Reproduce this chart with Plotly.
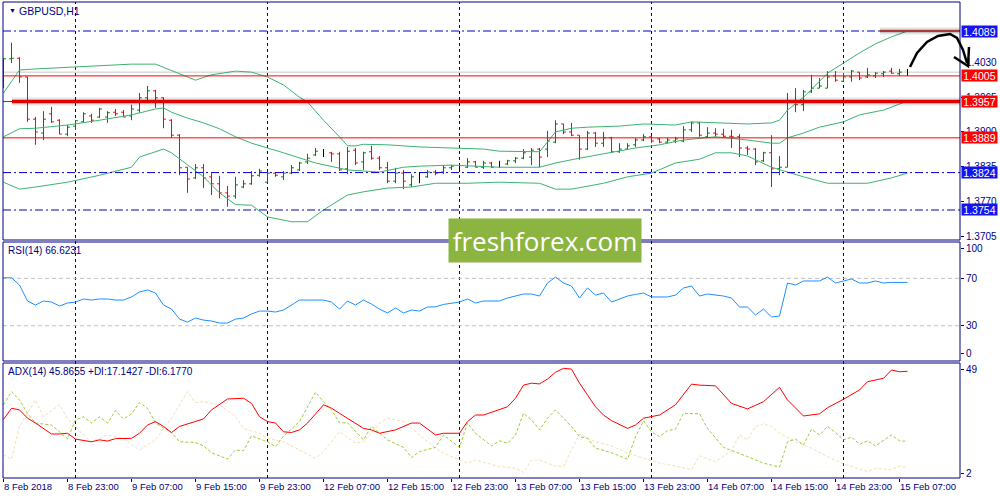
import plotly.graph_objects as go

# ---------------- DATA ----------------
X_LABELS = ["8 Feb 2018", "8 Feb 23:00", "9 Feb 07:00", "9 Feb 15:00", "9 Feb 23:00",
            "12 Feb 07:00", "12 Feb 15:00", "12 Feb 23:00", "13 Feb 07:00", "13 Feb 15:00",
            "13 Feb 23:00", "14 Feb 07:00", "14 Feb 15:00", "14 Feb 23:00", "15 Feb 07:00"]
X_LABEL_POS = [0, 8, 16, 24, 32, 40, 48, 56, 64, 72, 80, 88, 96, 104, 112]
DAY_STARTS = [9, 33, 57, 81, 105]

OPEN = [1.3997, 1.4037, 1.4038, 1.4003, 1.3924, 1.3898, 1.3934, 1.3922, 1.3896, 1.3911,
        1.3919, 1.3930, 1.3928, 1.3928, 1.3937, 1.3937, 1.3930, 1.3941, 1.3964, 1.3977,
        1.3964, 1.3922, 1.3894, 1.3834, 1.3814, 1.3833, 1.3816, 1.3803, 1.3786, 1.3780,
        1.3797, 1.3803, 1.3819, 1.3806, 1.3823, 1.3816, 1.3823, 1.3829, 1.3844, 1.3857,
        1.3861, 1.3861, 1.3859, 1.3831, 1.3866, 1.3844, 1.3863, 1.3851, 1.3833, 1.3808,
        1.3823, 1.3801, 1.3814, 1.3816, 1.3825, 1.3825, 1.3833, 1.3834, 1.3834, 1.3844,
        1.3834, 1.3842, 1.3838, 1.3840, 1.3846, 1.3851, 1.3853, 1.3868, 1.3868, 1.3881,
        1.3915, 1.3900, 1.3894, 1.3868, 1.3898, 1.3879, 1.3889, 1.3863, 1.3868, 1.3876,
        1.3885, 1.3891, 1.3887, 1.3881, 1.3883, 1.3883, 1.3904, 1.3917, 1.3891, 1.3898,
        1.3896, 1.3892, 1.3891, 1.3870, 1.3868, 1.3846, 1.3861, 1.3831, 1.3834, 1.3956,
        1.3951, 1.3975, 1.3982, 1.3982, 1.4005, 1.3995, 1.4003, 1.4012, 1.4003, 1.4005,
        1.4009, 1.4014, 1.4009, 1.4012]
HIGH = [1.4038, 1.4067, 1.4040, 1.4003, 1.3928, 1.3939, 1.3947, 1.3924, 1.3913, 1.3922,
        1.3937, 1.3934, 1.3945, 1.3939, 1.3943, 1.3941, 1.3951, 1.3973, 1.3986, 1.3979,
        1.3965, 1.3924, 1.3896, 1.3834, 1.3840, 1.3840, 1.3823, 1.3818, 1.3799, 1.3816,
        1.3810, 1.3827, 1.3831, 1.3825, 1.3825, 1.3827, 1.3838, 1.3844, 1.3859, 1.3870,
        1.3868, 1.3863, 1.3863, 1.3872, 1.3870, 1.3863, 1.3874, 1.3855, 1.3844, 1.3833,
        1.3829, 1.3821, 1.3825, 1.3829, 1.3829, 1.3838, 1.3838, 1.3838, 1.3851, 1.3846,
        1.3846, 1.3844, 1.3846, 1.3848, 1.3853, 1.3868, 1.3870, 1.3870, 1.3902, 1.3922,
        1.3915, 1.3917, 1.3894, 1.3902, 1.3900, 1.3900, 1.3891, 1.3879, 1.3879, 1.3889,
        1.3896, 1.3892, 1.3889, 1.3889, 1.3891, 1.3911, 1.3919, 1.3919, 1.3909, 1.3907,
        1.3906, 1.3904, 1.3896, 1.3874, 1.3870, 1.3863, 1.3894, 1.3855, 1.3973, 1.3982,
        1.3979, 1.4007, 1.4001, 1.4014, 1.4014, 1.4010, 1.4016, 1.4012, 1.4020, 1.4012,
        1.4014, 1.4020, 1.4018, 1.4018]
LOW = [1.3982, 1.4029, 1.3992, 1.3919, 1.3876, 1.3885, 1.3917, 1.3896, 1.3892, 1.3904,
       1.3917, 1.3917, 1.3926, 1.3917, 1.3930, 1.3928, 1.3922, 1.3936, 1.3954, 1.3945,
       1.3907, 1.3889, 1.3819, 1.3786, 1.3812, 1.3795, 1.3782, 1.3776, 1.3760, 1.3775,
       1.3795, 1.3801, 1.3816, 1.3804, 1.3816, 1.3810, 1.3821, 1.3827, 1.3840, 1.3855,
       1.3853, 1.3844, 1.3827, 1.3821, 1.3838, 1.3829, 1.3848, 1.3829, 1.3804, 1.3804,
       1.3793, 1.3797, 1.3804, 1.3814, 1.3819, 1.3821, 1.3829, 1.3827, 1.3833, 1.3834,
       1.3831, 1.3833, 1.3833, 1.3838, 1.3842, 1.3849, 1.3838, 1.3834, 1.3853, 1.3879,
       1.3896, 1.3892, 1.3848, 1.3866, 1.3872, 1.3872, 1.3861, 1.3861, 1.3868, 1.3872,
       1.3883, 1.3879, 1.3879, 1.3879, 1.3879, 1.3881, 1.3900, 1.3891, 1.3889, 1.3891,
       1.3889, 1.3870, 1.3853, 1.3857, 1.3838, 1.3844, 1.3797, 1.3819, 1.3834, 1.3937,
       1.3939, 1.3973, 1.3982, 1.3982, 1.3994, 1.3994, 1.3994, 1.3997, 1.4001, 1.4001,
       1.4003, 1.4009, 1.4005, 1.4005]
CLOSE = [1.4037, 1.4038, 1.4003, 1.3924, 1.3900, 1.3924, 1.3919, 1.3896, 1.3909, 1.3921,
         1.3934, 1.3922, 1.3943, 1.3936, 1.3934, 1.3928, 1.3943, 1.3964, 1.3977, 1.3964,
         1.3924, 1.3894, 1.3833, 1.3812, 1.3833, 1.3814, 1.3803, 1.3786, 1.3780, 1.3801,
         1.3803, 1.3818, 1.3827, 1.3823, 1.3819, 1.3823, 1.3833, 1.3842, 1.3851, 1.3864,
         1.3861, 1.3859, 1.3829, 1.3864, 1.3842, 1.3861, 1.3851, 1.3833, 1.3808, 1.3823,
         1.3808, 1.3816, 1.3814, 1.3825, 1.3823, 1.3833, 1.3836, 1.3834, 1.3844, 1.3834,
         1.3842, 1.3834, 1.3838, 1.3846, 1.3851, 1.3861, 1.3866, 1.3853, 1.3883, 1.3915,
         1.3900, 1.3894, 1.3868, 1.3898, 1.3879, 1.3889, 1.3863, 1.3868, 1.3874, 1.3885,
         1.3891, 1.3883, 1.3881, 1.3885, 1.3887, 1.3904, 1.3917, 1.3894, 1.3898, 1.3896,
         1.3892, 1.3891, 1.3870, 1.3868, 1.3844, 1.3861, 1.3831, 1.3834, 1.3956, 1.3951,
         1.3975, 1.3982, 1.3986, 1.4003, 1.3997, 1.4003, 1.4014, 1.4001, 1.4007, 1.4010,
         1.4012, 1.4010, 1.4012, 1.4012]

BB_UP_IDX = [0, 2, 4, 8, 12, 16, 19, 20, 22, 24, 26, 29, 31, 33, 35, 37, 38, 40, 42, 43,
             44, 45, 48, 52, 56, 60, 62, 67, 69, 71, 73, 77, 80, 84, 86, 89, 93, 96, 97, 98,
             100, 103, 105, 107, 109, 111, 113]
BB_UP = [1.3973, 1.4016, 1.4018, 1.4021, 1.4025, 1.4027, 1.4027, 1.4021, 1.4010, 1.3997,
         1.4007, 1.4014, 1.4012, 1.4003, 1.3988, 1.3965, 1.3956, 1.3922, 1.3891, 1.3874,
         1.3874, 1.3877, 1.3876, 1.3872, 1.3870, 1.3868, 1.3864, 1.3863, 1.3900, 1.3907,
         1.3909, 1.3911, 1.3915, 1.3913, 1.3919, 1.3917, 1.3915, 1.3917, 1.3922, 1.3941,
         1.3965, 1.4010, 1.4029, 1.4048, 1.4065, 1.4078, 1.4089]
BB_MID_IDX = [0, 2, 4, 8, 12, 16, 19, 20, 21, 23, 25, 27, 29, 31, 35, 39, 43, 47, 50, 52,
              56, 62, 67, 69, 72, 75, 79, 82, 85, 89, 93, 96, 97, 98, 100, 102, 105, 107, 110, 113]
BB_MID = [1.3891, 1.3906, 1.3907, 1.3913, 1.3922, 1.3932, 1.3943, 1.3945, 1.3937, 1.3926,
          1.3917, 1.3906, 1.3891, 1.3879, 1.3861, 1.3842, 1.3829, 1.3825, 1.3834, 1.3836,
          1.3838, 1.3834, 1.3834, 1.3842, 1.3851, 1.3859, 1.3870, 1.3876, 1.3885, 1.3891,
          1.3885, 1.3879, 1.3879, 1.3889, 1.3898, 1.3909, 1.3919, 1.3932, 1.3941, 1.3958]
BB_LOW_IDX = [0, 2, 4, 8, 12, 16, 17, 19, 20, 21, 23, 25, 27, 29, 31, 33, 36, 38, 40, 42,
              43, 45, 48, 51, 54, 58, 62, 67, 69, 71, 75, 78, 81, 84, 87, 89, 91, 93, 96, 98,
              100, 103, 108, 111, 113]
BB_LOW = [1.3806, 1.3793, 1.3797, 1.3806, 1.3819, 1.3834, 1.3853, 1.3863, 1.3868, 1.3861,
          1.3838, 1.3816, 1.3786, 1.3764, 1.3763, 1.3741, 1.3732, 1.3732, 1.3754, 1.3773,
          1.3782, 1.3788, 1.3795, 1.3797, 1.3804, 1.3804, 1.3806, 1.3804, 1.3793, 1.3793,
          1.3804, 1.3816, 1.3823, 1.3842, 1.3849, 1.3861, 1.3861, 1.3855, 1.3834, 1.3825,
          1.3816, 1.3804, 1.3804, 1.3814, 1.3823]

RSI = [70.5, 70.5, 64.4, 50.9, 47.5, 50.9, 50.0, 46.7, 49.2, 50.0,
       52.6, 51.7, 52.6, 52.6, 51.7, 51.7, 54.3, 58.5, 60.2, 57.6,
       47.5, 44.1, 35.6, 33.1, 36.5, 34.8, 34.0, 32.3, 32.3, 35.6,
       36.5, 40.0, 42.4, 42.4, 41.6, 43.3, 47.5, 51.7, 51.7, 51.7,
       51.7, 50.0, 44.1, 50.9, 47.5, 51.7, 48.3, 44.0, 40.8, 45.0,
       40.8, 43.3, 42.4, 45.8, 46.0, 48.0, 49.2, 50.0, 52.6, 49.2,
       50.9, 50.9, 50.9, 53.4, 55.1, 56.8, 56.8, 55.1, 66.1, 71.1,
       66.1, 63.5, 53.4, 61.9, 55.9, 57.6, 50.0, 52.6, 55.1, 56.5,
       57.6, 54.3, 54.3, 54.3, 55.9, 61.9, 63.5, 55.1, 56.8, 55.9,
       55.1, 53.4, 45.8, 45.8, 39.1, 44.1, 37.4, 38.2, 66.1, 64.4,
       67.8, 67.8, 67.8, 71.1, 66.1, 67.8, 69.5, 66.1, 66.1, 67.8,
       66.1, 66.6, 66.6, 66.6]
RSI_LEVELS = [70, 30]

ADX_IDX = [0, 1, 2, 3, 4, 5, 6, 7, 8, 9, 10, 11, 12, 13, 14, 16, 17, 18, 19, 20, 21, 22,
           25, 26, 28, 30, 31, 32, 33, 34, 35, 36, 37, 38, 40, 41, 42, 43, 45, 46, 47, 49,
           51, 52, 54, 55, 57, 58, 59, 60, 62, 63, 64, 65, 66, 67, 68, 69, 70, 71, 72, 73,
           74, 75, 76, 78, 79, 80, 82, 84, 86, 87, 89, 91, 93, 95, 97, 98, 100, 102, 103, 105,
           107, 108, 110, 111, 112, 113]
ADX = [26.1, 30.7, 30.0, 26.6, 24.6, 22.4, 20.1, 20.1, 20.4, 18.0, 17.3, 16.9, 17.7, 17.2, 18.2,
       18.3, 20.4, 23.8, 25.2, 23.2, 20.7, 23.2,
       26.3, 30.0, 34.5, 34.8, 32.7, 27.2, 25.2, 24.6, 21.0, 20.7,
       21.8, 24.6, 32.1, 30.7, 28.6, 26.6, 22.4, 21.8, 20.4, 21.8,
       24.6, 24.6, 19.7, 20.4, 20.4, 25.2, 27.9, 27.9, 30.0, 31.3,
       34.8, 40.2, 41.0, 40.7, 42.7, 45.5, 47.1, 46.8, 41.0, 36.1,
       31.3, 27.9, 25.6, 22.4, 23.8, 26.6, 27.9, 32.1, 40.6, 40.2,
       39.9, 32.7, 30.4, 33.4, 39.3, 34.1, 27.5, 28.4, 30.9, 34.4,
       38.2, 41.6, 43.0, 46.4, 45.7, 45.9]
PDI_IDX = [0, 1, 2, 3, 4, 6, 7, 8, 9, 10, 11, 12, 13, 14, 15, 16, 17, 18, 19, 21,
           22, 24, 25, 26, 28, 29, 30, 31, 33, 34, 35, 37, 39, 40, 41, 42, 43, 45, 46, 48,
           50, 51, 52, 54, 55, 57, 58, 59, 61, 62, 63, 64, 65, 66, 67, 68, 69, 71, 72, 73,
           74, 76, 77, 78, 79, 80, 81, 82, 83, 84, 85, 87, 88, 90, 93, 95, 97, 98, 99, 100,
           101, 102, 103, 104, 105, 106, 107, 108, 109, 111, 112, 113]
PDI = [32.1, 37.5, 34.1, 28.6, 24.6, 23.8, 21.0, 18.1, 25.9, 27.2,
       24.6, 27.2, 24.6, 29.7, 26.3, 28.4, 33.0, 30.7, 24.6, 20.7,
       16.9, 16.6, 15.2, 12.4, 9.8, 13.5, 13.2, 19.3, 16.9, 14.9,
       19.3, 25.2, 37.3, 33.4, 30.0, 24.7, 24.7, 17.7, 23.2, 17.7,
       14.6, 10.4, 12.9, 14.6, 19.7, 14.6, 24.6, 20.4, 15.2, 17.3,
       16.3, 19.7, 28.6, 25.9, 21.8, 26.6, 30.0, 23.2, 19.0, 18.3,
       14.3, 12.4, 11.1, 9.7, 19.0, 25.5, 21.0, 19.0, 21.5, 22.1,
       28.6, 28.4, 22.4, 14.6, 10.8, 8.1, 6.5, 16.9, 18.0, 15.6,
       22.1, 19.7, 23.2, 20.7, 17.7, 18.8, 15.9, 17.3, 15.2, 19.7,
       17.3, 17.1]
MDI_IDX = [0, 1, 2, 4, 5, 7, 8, 10, 11, 13, 15, 17, 19, 21, 23, 24, 25, 27, 29, 30,
           32, 33, 35, 37, 39, 40, 42, 44, 45, 47, 48, 50, 52, 54, 55, 57, 58, 59, 61, 62,
           64, 65, 66, 67, 69, 70, 71, 72, 74, 76, 78, 80, 82, 84, 86, 87, 89, 91, 92, 93,
           94, 95, 96, 97, 99, 101, 103, 105, 107, 108, 109, 111, 112, 113]
MDI = [11.5, 9.7, 23.2, 34.1, 27.2, 32.1, 26.6, 19.7, 16.9, 19.7,
       18.3, 13.5, 17.7, 26.6, 37.5, 33.0, 33.4, 32.1, 27.2, 22.4,
       20.4, 18.3, 16.9, 13.5, 10.1, 12.9, 21.0, 16.3, 16.9, 24.6,
       26.6, 25.2, 19.7, 14.3, 12.2, 9.4, 8.1, 9.4, 7.4, 6.7,
       6.0, 4.3, 9.4, 9.4, 6.9, 6.7, 13.5, 20.1, 16.9, 15.2,
       12.2, 10.1, 8.1, 6.9, 5.4, 11.1, 8.7, 13.2, 19.7, 17.7,
       23.2, 24.3, 23.2, 20.4, 16.9, 14.3, 10.8, 7.8, 5.6, 4.6,
       6.0, 5.4, 6.9, 6.2]

PRICE_TICKS = [1.4030, 1.3965, 1.3900, 1.3835, 1.3770, 1.3705]
BLUE_LEVELS = [1.4089, 1.3824, 1.3754]
RED_LEVELS = [1.4005, 1.3889]
THICK_RED_LEVEL = 1.3957
BID = 1.4012

# ---------------- STYLE / LAYOUT HELPERS ----------------
NAVY = "#000080"
FONT = "Liberation Sans, Arial, sans-serif"
L, R, T, B = 3, 40, 2, 22
W, H = 1000, 500
PW, PH = W - L - R, H - T - B


def px(x):
    return (x - L) / PW


def py(y):
    return (H - B - y) / PH


MAIN_DOM = [py(240), 1.0]
RSI_DOM = [py(361), py(242)]
ADX_DOM = [0.0, py(363)]

fig = go.Figure()

n = len(CLOSE)
idx = list(range(n))
doji = [o == c for o, c in zip(OPEN, CLOSE)]


def pick(arr, mask):
    return [a for a, m in zip(arr, mask) if m]


nd = [not d for d in doji]
fig.add_trace(go.Ohlc(
    x=pick(idx, nd), open=pick(OPEN, nd), high=pick(HIGH, nd), low=pick(LOW, nd), close=pick(CLOSE, nd),
    increasing=dict(line=dict(color="#008000", width=1)),
    decreasing=dict(line=dict(color="#FF0000", width=1)),
    tickwidth=0.3, xaxis="x", yaxis="y", showlegend=False, hoverinfo="skip"))
dx = pick(idx, doji)
mind = min(b - a for a, b in zip(dx[:-1], dx[1:]))
fig.add_trace(go.Ohlc(
    x=dx, open=pick(OPEN, doji), high=pick(HIGH, doji), low=pick(LOW, doji), close=pick(CLOSE, doji),
    increasing=dict(line=dict(color="#000000", width=1)),
    decreasing=dict(line=dict(color="#000000", width=1)),
    tickwidth=0.3 / mind, xaxis="x", yaxis="y", showlegend=False, hoverinfo="skip"))

BB_COLOR = "#3CB371"
for xs, ys in [(BB_UP_IDX, BB_UP), (BB_MID_IDX, BB_MID), (BB_LOW_IDX, BB_LOW)]:
    fig.add_trace(go.Scatter(x=xs, y=ys, mode="lines", line=dict(color=BB_COLOR, width=1),
                             xaxis="x", yaxis="y", showlegend=False, hoverinfo="skip"))

fig.add_trace(go.Scatter(x=idx, y=RSI, mode="lines", line=dict(color="#1E90FF", width=1),
                         xaxis="x", yaxis="y2", showlegend=False, hoverinfo="skip"))

fig.add_trace(go.Scatter(x=MDI_IDX, y=MDI, mode="lines", line=dict(color="#F5DEB3", width=1, dash="3px,2px"),
                         xaxis="x", yaxis="y3", showlegend=False, hoverinfo="skip"))
fig.add_trace(go.Scatter(x=PDI_IDX, y=PDI, mode="lines", line=dict(color="#9ACD32", width=1, dash="3px,2px"),
                         xaxis="x", yaxis="y3", showlegend=False, hoverinfo="skip"))
fig.add_trace(go.Scatter(x=ADX_IDX, y=ADX, mode="lines", line=dict(color="#FF0000", width=1),
                         xaxis="x", yaxis="y3", showlegend=False, hoverinfo="skip"))

shapes = []
# day separators
for d in DAY_STARTS:
    shapes.append(dict(type="line", xref="x", yref="paper", x0=d, x1=d, y0=0, y1=1,
                       line=dict(color=NAVY, width=1, dash="3px,3px"), layer="below"))
# RSI levels
for lv in RSI_LEVELS:
    shapes.append(dict(type="line", xref="paper", yref="y2", x0=0, x1=1, y0=lv, y1=lv,
                       line=dict(color="#C0C0C0", width=1, dash="4px,3px"), layer="below"))
# bid line
shapes.append(dict(type="line", xref="paper", yref="y", x0=0, x1=1, y0=BID, y1=BID,
                   line=dict(color="#C8C8C8", width=1), layer="below"))
# blue dash-dot levels
for lv in BLUE_LEVELS:
    shapes.append(dict(type="line", xref="paper", yref="y", x0=0, x1=1, y0=lv, y1=lv,
                       line=dict(color="#0000CD", width=1, dash="8px,3px,2px,3px")))
# red levels
for lv in RED_LEVELS + [THICK_RED_LEVEL]:
    shapes.append(dict(type="line", xref="paper", yref="y", x0=0, x1=1, y0=lv, y1=lv,
                       line=dict(color="#FF0000", width=1)))
# thick shaded red segment
for wdt, col in [(8, "rgba(0,0,0,0.10)"), (5, "rgba(0,0,0,0.18)"), (3, "#E00000")]:
    shapes.append(dict(type="line", xref="paper", yref="y", x0=px(12), x1=1,
                       y0=THICK_RED_LEVEL, y1=THICK_RED_LEVEL, line=dict(color=col, width=wdt)))
# short shaded segment at the top level
for wdt, col in [(7, "rgba(0,0,0,0.10)"), (4, "rgba(0,0,0,0.15)"), (2, "#B03A3A")]:
    shapes.append(dict(type="line", xref="paper", yref="y", x0=px(880), x1=1,
                       y0=BLUE_LEVELS[0], y1=BLUE_LEVELS[0], line=dict(color=col, width=wdt)))
# pane borders
for dom in (MAIN_DOM, RSI_DOM, ADX_DOM):
    shapes.append(dict(type="rect", xref="paper", yref="paper", x0=0, x1=1, y0=dom[0], y1=dom[1],
                       line=dict(color=NAVY, width=1), fillcolor="rgba(0,0,0,0)"))
# hand-drawn arrow
pts = [(910, 67), (917, 53), (927, 42), (938, 36), (950, 34), (957, 38), (963, 50), (967, 63)]
path = "M " + " L ".join(f"{px(a):.5f},{py(b):.5f}" for a, b in pts)
shapes.append(dict(type="path", xref="paper", yref="paper", path=path,
                   line=dict(color="#000000", width=2.5)))
head = [(954, 57), (968, 66), (969, 47)]
path2 = "M " + " L ".join(f"{px(a):.5f},{py(b):.5f}" for a, b in head)
shapes.append(dict(type="path", xref="paper", yref="paper", path=path2,
                   line=dict(color="#000000", width=2.5)))

annotations = []
# colored price labels
for lv in BLUE_LEVELS:
    annotations.append(dict(x=1, xref="paper", xanchor="left", xshift=1, y=lv, yref="y",
                            text=f"{lv:.4f}", showarrow=False, bgcolor="#1414F0",
                            font=dict(color="white", size=10.5, family=FONT),
                            width=35, height=11, borderpad=0, align="center"))
for lv in RED_LEVELS + [THICK_RED_LEVEL]:
    annotations.append(dict(x=1, xref="paper", xanchor="left", xshift=1, y=lv, yref="y",
                            text=f"{lv:.4f}", showarrow=False, bgcolor="#FF0000",
                            font=dict(color="white", size=10.5, family=FONT),
                            width=35, height=11, borderpad=0, align="center"))
# pane titles
annotations.append(dict(x=px(7), y=py(10), xref="paper", yref="paper", xanchor="left", yanchor="middle",
                        text="▼", showarrow=False, font=dict(size=7, color=NAVY, family=FONT)))
annotations.append(dict(x=px(17), y=py(11), xref="paper", yref="paper", xanchor="left", yanchor="middle",
                        text="GBPUSD,H1", showarrow=False, font=dict(size=10.5, color=NAVY, family=FONT)))
annotations.append(dict(x=px(6), y=py(251), xref="paper", yref="paper", xanchor="left", yanchor="middle",
                        text="RSI(14) 66.6231", showarrow=False, font=dict(size=10, color=NAVY, family=FONT)))
annotations.append(dict(x=px(6), y=py(371), xref="paper", yref="paper", xanchor="left", yanchor="middle",
                        text="ADX(14) 45.8655 +DI:17.1427 -DI:6.1770", showarrow=False,
                        font=dict(size=10, color=NAVY, family=FONT)))
# watermark
annotations.append(dict(x=px(545), y=py(240.5), xref="paper", yref="paper", xanchor="center", yanchor="middle",
                        text="freshforex.com", showarrow=False, bgcolor="#8CB440",
                        width=190, height=41, borderpad=1,
                        font=dict(size=26, color="white", family="Open Sans, sans-serif")))

axis_font = dict(size=10, color=NAVY, family=FONT)
fig.update_layout(
    width=W, height=H, margin=dict(l=L, r=R, t=T, b=B),
    paper_bgcolor="white", plot_bgcolor="white", showlegend=False,
    xaxis=dict(domain=[0, 1], range=[-0.0625, 119.5625], anchor="y3",
               tickvals=X_LABEL_POS, ticktext=X_LABELS, ticks="outside", ticklen=3, tickcolor=NAVY,
               ticklabelposition="outside right", tickangle=0,
               tickfont=dict(size=9.5, color=NAVY, family=FONT),
               showgrid=False, zeroline=False, showline=False, rangeslider=dict(visible=False)),
    yaxis=dict(domain=MAIN_DOM, range=[1.36978, 1.41433], side="right", anchor="x",
               tickvals=PRICE_TICKS, ticktext=[f"{v:.4f}" for v in PRICE_TICKS],
               ticks="outside", ticklen=3, tickcolor=NAVY, tickfont=axis_font,
               showgrid=False, zeroline=False, showline=False),
    yaxis2=dict(domain=RSI_DOM, range=[0.25, 100.7], side="right", anchor="x",
                tickvals=[95, 70, 30, 6.5], ticktext=["100", "70", "30", "0"],
                ticks="outside", ticklen=3, tickcolor=NAVY, tickfont=axis_font,
                showgrid=False, zeroline=False, showline=False),
    yaxis3=dict(domain=ADX_DOM, range=[2.0, 49.3], side="right", anchor="x",
                tickvals=[46.8, 3.9], ticktext=["49", "2"],
                ticks="outside", ticklen=3, tickcolor=NAVY, tickfont=axis_font,
                showgrid=False, zeroline=False, showline=False),
    shapes=shapes, annotations=annotations,
)

fig.write_html("out.html", config={"displayModeBar": False},
               post_script="document.body.style.margin='0px';document.body.style.padding='0px';")
